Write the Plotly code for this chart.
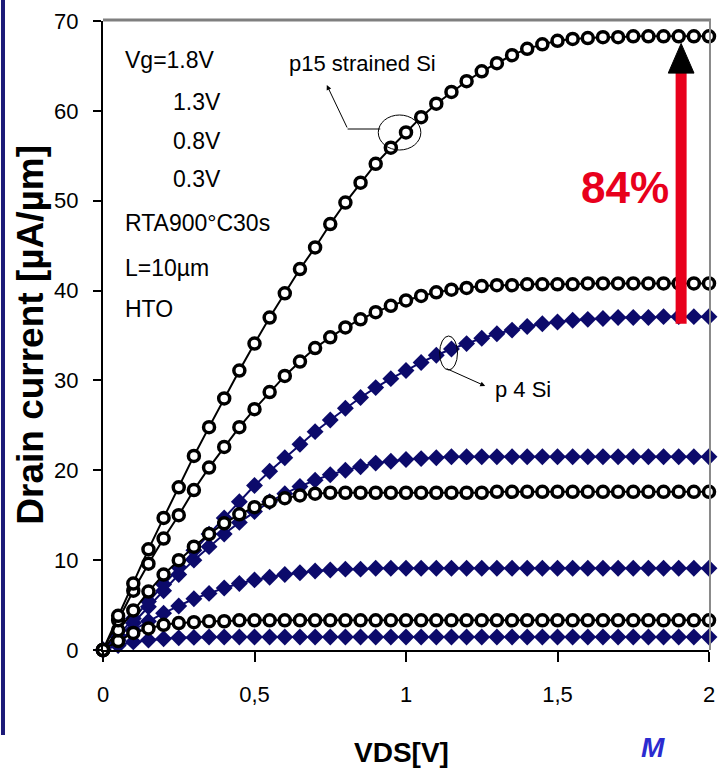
import plotly.graph_objects as go

# ---------------- data ----------------
VDS = [0.0, 0.05, 0.1, 0.15, 0.2, 0.25, 0.3, 0.35, 0.4, 0.45,
       0.5, 0.55, 0.6, 0.65, 0.7, 0.75, 0.8, 0.85, 0.9, 0.95,
       1.0, 1.05, 1.1, 1.15, 1.2, 1.25, 1.3, 1.35, 1.4, 1.45,
       1.5, 1.55, 1.6, 1.65, 1.7, 1.75, 1.8, 1.85, 1.9, 1.95, 2.0]

# p15 strained Si (open circles)
strained_18 = [0, 3.8, 7.4, 11.2, 14.7, 18.1, 21.6, 24.8, 28.0, 31.1,
               34.1, 37.0, 39.7, 42.4, 44.8, 47.4, 49.8, 52.0, 54.1, 55.9,
               57.6, 59.3, 60.8, 62.1, 63.3, 64.4, 65.3, 66.2, 66.9, 67.4,
               67.8, 68.0, 68.1, 68.2, 68.2, 68.3, 68.3, 68.3, 68.3, 68.3, 68.3]
strained_13 = [0, 3.3, 6.6, 9.6, 12.4, 15.0, 17.8, 20.3, 22.6, 24.8,
               26.8, 28.7, 30.5, 32.1, 33.6, 34.8, 35.9, 36.8, 37.6, 38.3,
               38.9, 39.4, 39.8, 40.1, 40.3, 40.5, 40.6, 40.6, 40.7, 40.7,
               40.7, 40.7, 40.8, 40.8, 40.8, 40.8, 40.8, 40.8, 40.8, 40.8, 40.8]
strained_08 = [0, 2.2, 4.4, 6.5, 8.4, 10.0, 11.5, 12.9, 14.1, 15.1,
               15.9, 16.5, 16.9, 17.2, 17.4, 17.5, 17.5, 17.5, 17.5, 17.5,
               17.5, 17.5, 17.5, 17.5, 17.5, 17.5, 17.6, 17.6, 17.6, 17.6,
               17.6, 17.6, 17.6, 17.6, 17.6, 17.6, 17.6, 17.6, 17.6, 17.6, 17.6]
strained_03 = [0, 1.0, 1.9, 2.4, 2.8, 3.0, 3.1, 3.2, 3.2, 3.3,
               3.3, 3.3, 3.3, 3.3, 3.3, 3.3, 3.3, 3.3, 3.3, 3.3,
               3.3, 3.3, 3.3, 3.3, 3.3, 3.3, 3.3, 3.3, 3.3, 3.3,
               3.3, 3.3, 3.3, 3.3, 3.3, 3.3, 3.3, 3.3, 3.3, 3.3, 3.3]

# p4 Si (filled diamonds)
si_18 = [0, 1.6, 3.5, 5.4, 7.3, 9.2, 11.1, 12.9, 14.7, 16.5,
         18.3, 19.9, 21.4, 22.9, 24.3, 25.6, 26.9, 28.1, 29.2, 30.2,
         31.1, 32.0, 32.8, 33.5, 34.1, 34.7, 35.2, 35.6, 36.0, 36.3,
         36.5, 36.7, 36.8, 36.9, 37.0, 37.0, 37.0, 37.1, 37.1, 37.1, 37.1]
si_13 = [0, 1.4, 3.0, 4.8, 6.6, 8.4, 10.0, 11.5, 12.9, 14.2,
         15.4, 16.5, 17.4, 18.2, 18.9, 19.5, 20.0, 20.4, 20.8, 21.0,
         21.2, 21.3, 21.4, 21.5, 21.5, 21.5, 21.5, 21.5, 21.5, 21.5,
         21.5, 21.5, 21.5, 21.5, 21.5, 21.5, 21.5, 21.5, 21.5, 21.5, 21.5]
si_08 = [0, 1.1, 2.2, 3.2, 4.1, 4.9, 5.7, 6.3, 6.9, 7.4,
         7.8, 8.1, 8.4, 8.6, 8.8, 8.9, 9.0, 9.0, 9.1, 9.1,
         9.1, 9.1, 9.1, 9.1, 9.1, 9.1, 9.1, 9.1, 9.1, 9.1,
         9.1, 9.1, 9.1, 9.1, 9.1, 9.1, 9.1, 9.1, 9.1, 9.1, 9.1]
si_03 = [0, 0.5, 0.9, 1.1, 1.25, 1.35, 1.4, 1.45, 1.45, 1.45,
         1.45, 1.45, 1.45, 1.45, 1.45, 1.45, 1.45, 1.45, 1.45, 1.45,
         1.45, 1.45, 1.45, 1.45, 1.45, 1.45, 1.45, 1.45, 1.45, 1.45,
         1.45, 1.45, 1.45, 1.45, 1.45, 1.45, 1.45, 1.45, 1.45, 1.45, 1.45]

x_tickvals = [0, 0.5, 1, 1.5, 2]
x_ticktext = ["0", "0,5", "1", "1,5", "2"]
y_tickvals = [0, 10, 20, 30, 40, 50, 60, 70]

gain_low, gain_high, gain_x = 36.3, 64.2, 1.908  # 84% arrow (data units)

# ---------------- layout geometry ----------------
W, H = 723, 771
L, R, T, B = 103, 715, 21, 650
FONT = "Liberation Sans, Arial, sans-serif"
NAVY = "#0c0a6b"


def px(x):
    return (x - L) / (R - L)


def py(y):
    return (B - y) / (B - T)


fig = go.Figure()

for ys in [si_03, si_08, si_13, si_18]:
    fig.add_trace(go.Scatter(
        x=VDS, y=ys, mode="lines+markers", cliponaxis=False,
        line=dict(color=NAVY, width=2),
        marker=dict(symbol="diamond", size=13, color=NAVY, line=dict(width=0)),
        showlegend=False, hoverinfo="skip"))

for ys in [strained_03, strained_08, strained_13, strained_18]:
    fig.add_trace(go.Scatter(
        x=VDS, y=ys, mode="lines+markers", cliponaxis=False,
        line=dict(color="black", width=2),
        marker=dict(symbol="circle", size=11, color="white",
                    line=dict(color="black", width=3.5)),
        showlegend=False, hoverinfo="skip"))

shapes = []
# gray top and right border
shapes.append(dict(type="line", xref="paper", yref="paper", x0=0, x1=px(717),
                   y0=py(20), y1=py(20), line=dict(color="#7f7f7f", width=3)))
shapes.append(dict(type="line", xref="paper", yref="paper", x0=px(716), x1=px(716),
                   y0=py(20), y1=0, line=dict(color="#8a8a8a", width=2)))
# navy bar on the far left
shapes.append(dict(type="line", xref="paper", yref="paper", x0=px(2), x1=px(2),
                   y0=py(0), y1=py(735), line=dict(color="#1c1a78", width=4)))
# ellipses highlighting the curves
shapes.append(dict(type="circle", xref="paper", yref="paper",
                   x0=px(381), x1=px(424), y0=py(150), y1=py(115),
                   line=dict(color="black", width=1)))
shapes.append(dict(type="circle", xref="paper", yref="paper",
                   x0=px(443), x1=px(461), y0=py(370), y1=py(336),
                   line=dict(color="black", width=1)))
# leader line (horizontal part) for p15
shapes.append(dict(type="line", xref="paper", yref="paper",
                   x0=px(383), x1=px(350), y0=py(129), y1=py(129),
                   line=dict(color="black", width=1)))
# red arrow shaft
shapes.append(dict(type="line", xref="x", yref="y",
                   x0=gain_x, x1=gain_x, y0=gain_low, y1=gain_high,
                   line=dict(color="#e8001c", width=11)))
# black arrow head
hx = 13 / (R - L) * 2
hy_top = 67.5
shapes.append(dict(type="path", xref="x", yref="y",
                   path=f"M {gain_x - hx} {gain_high} L {gain_x + hx} {gain_high} L {gain_x} {hy_top} Z",
                   fillcolor="black", line=dict(color="black", width=1)))

ann = []


def text(x, y, s, size=23, anchor="left", color="black", **kw):
    ann.append(dict(xref="paper", yref="paper", x=px(x), y=py(y), text=s,
                    showarrow=False, xanchor=anchor, yanchor="middle",
                    font=dict(family=FONT, size=size, color=color, **kw)))


text(123, 60, "Vg=1.8V")
text(224, 102, "1.3V", anchor="right")
text(224, 141, "0.8V", anchor="right")
text(224, 179, "0.3V", anchor="right")
text(123, 223, "RTA900°C30s")
text(123, 268, "L=10µm")
text(123, 309, "HTO")
text(365, 63, "p15 strained Si", size=22, anchor="center")
text(527, 389, "p 4 Si", size=22, anchor="center")
text(630, 187, "84%", size=44, anchor="center", color="#e8001c", weight="bold")
text(404, 752, "VDS[V]", size=28, anchor="center", weight="bold")

# y axis title
ann.append(dict(xref="paper", yref="paper", x=px(29), y=py(335),
                text="Drain current [µA/µm]", textangle=-90, showarrow=False,
                xanchor="center", yanchor="middle",
                font=dict(family=FONT, size=37, color="black", weight="bold")))
# blue M at the bottom right
ann.append(dict(xref="paper", yref="paper", x=px(658), y=py(747),
                text="M", showarrow=False, xanchor="center", yanchor="middle",
                font=dict(family=FONT, size=28, color="#2b2bd0",
                          weight="bold", style="italic")))


def callout(hx_, hy_, tx_, ty_):
    ann.append(dict(xref="paper", yref="paper", axref="pixel", ayref="pixel",
                    x=px(hx_), y=py(hy_), ax=tx_ - hx_, ay=ty_ - hy_, text="",
                    showarrow=True, arrowhead=2, arrowsize=1, arrowwidth=1,
                    arrowcolor="black", standoff=0))


callout(329, 85, 350, 129)
callout(489, 386, 449, 368)

fig.update_layout(
    width=W, height=H, autosize=False,
    margin=dict(l=L, r=W - R, t=T, b=H - B, pad=0),
    paper_bgcolor="white", plot_bgcolor="white",
    shapes=shapes, annotations=ann,
    xaxis=dict(range=[0, 2], tickvals=x_tickvals, ticktext=x_ticktext,
               showgrid=False, zeroline=False, showline=True,
               linecolor="black", linewidth=2, ticks="outside", ticklen=10,
               tickwidth=1.5, tickcolor="black", ticklabelstandoff=14,
               tickfont=dict(family=FONT, size=22, color="black")),
    yaxis=dict(range=[0, 70], tickvals=y_tickvals,
               showgrid=False, zeroline=False, showline=True,
               linecolor="black", linewidth=2, ticks="outside", ticklen=8,
               tickwidth=1.5, tickcolor="black", ticklabelstandoff=10,
               tickfont=dict(family=FONT, size=22, color="black")),
)

fig.write_html("out.html")
